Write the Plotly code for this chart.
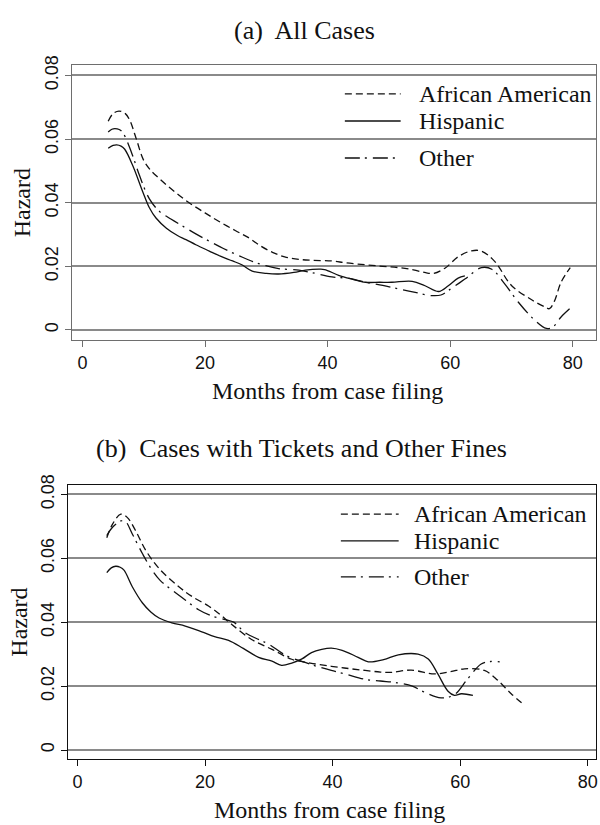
import plotly.graph_objects as go

# ---- Panel (a): All Cases ----
months_aa_a = [4.2, 5.0, 5.95, 7.0, 7.7, 8.8, 9.9, 11.0, 12.6, 15.0, 17.4, 20.0, 22.3, 25.0, 27.2,
               29.0, 31.0, 33.0, 35.3, 37.5, 40.7, 43.0, 46.2, 49.0, 51.6, 54.0, 56.0, 57.3, 59.2,
               61.3, 63.5, 65.1, 67.3, 70.0, 73.3, 75.5, 76.2, 77.0, 78.1, 79.6]
hazard_aa_a = [0.0656, 0.0680, 0.0688, 0.0680, 0.0660, 0.0600, 0.0537, 0.0505, 0.0475, 0.0435,
               0.0400, 0.0368, 0.0341, 0.0312, 0.0289, 0.0265, 0.0244, 0.0230, 0.0222, 0.0219,
               0.0217, 0.0211, 0.0205, 0.0200, 0.0196, 0.0189, 0.0180, 0.0178, 0.0195, 0.0230,
               0.0249, 0.0248, 0.0215, 0.0140, 0.0095, 0.0072, 0.0067, 0.0090, 0.0150, 0.0196]

months_hi_a = [4.2, 5.0, 5.6, 6.3, 6.9, 8.2, 9.85, 10.9, 12.0, 13.7, 15.5, 16.9, 18.5, 20.7, 22.5,
               24.5, 26.0, 27.7, 30.0, 32.0, 34.5, 36.4, 38.6, 39.5, 41.8, 44.0, 46.2, 48.5, 50.5,
               53.8, 55.9, 58.1, 59.7, 61.3, 62.4]
hazard_hi_a = [0.0571, 0.0580, 0.0582, 0.0578, 0.0568, 0.0517, 0.0434, 0.0385, 0.0352, 0.0320,
               0.0297, 0.0284, 0.0268, 0.0248, 0.0232, 0.0217, 0.0205, 0.0185, 0.0178, 0.0176,
               0.0181, 0.0188, 0.0191, 0.0190, 0.0172, 0.0160, 0.0150, 0.0150, 0.0150, 0.0153,
               0.0139, 0.0121, 0.0139, 0.0163, 0.0170]

months_ot_a = [4.2, 4.8, 5.3, 6.0, 6.6, 8.0, 9.3, 10.9, 12.6, 14.5, 16.4, 18.5, 20.7, 23.0, 25.6,
               27.8, 29.9, 32.0, 35.3, 37.5, 40.7, 43.5, 46.2, 49.0, 51.6, 54.3, 57.0, 58.5, 59.7,
               62.4, 65.1, 66.8, 68.9, 71.1, 73.8, 75.7, 76.8, 78.1, 79.5]
hazard_ot_a = [0.0622, 0.0631, 0.0633, 0.0630, 0.0620, 0.0558, 0.0486, 0.0413, 0.0372, 0.0348,
               0.0326, 0.0302, 0.0279, 0.0256, 0.0233, 0.0215, 0.0202, 0.0193, 0.0188, 0.0180,
               0.0167, 0.0162, 0.0150, 0.0140, 0.0129, 0.0118, 0.0108, 0.0110, 0.0124, 0.0160,
               0.0196, 0.0191, 0.0145, 0.0088, 0.0031, 0.0005, 0.0010, 0.0041, 0.0067]

# ---- Panel (b): Cases with Tickets and Other Fines ----
months_aa_b = [4.6, 5.5, 6.8, 7.8, 9.1, 10.7, 12.8, 15.9, 18.0, 20.6, 22.5, 24.2, 27.3, 30.5, 33.6,
               36.5, 39.8, 42.5, 45.1, 47.5, 49.2, 52.3, 56.0, 58.5, 60.7, 63.8, 65.9, 68.0, 70.1]
hazard_aa_b = [0.0664, 0.0707, 0.0738, 0.0728, 0.0687, 0.0625, 0.0568, 0.0511, 0.0480, 0.0450,
               0.0422, 0.0393, 0.0346, 0.0315, 0.0284, 0.0272, 0.0262, 0.0255, 0.0249, 0.0244,
               0.0243, 0.0250, 0.0238, 0.0245, 0.0254, 0.0249, 0.0218, 0.0176, 0.0140]

months_hi_b = [4.6, 5.3, 6.0, 6.7, 7.3, 8.6, 10.2, 11.5, 12.8, 14.8, 16.9, 19.5, 21.5, 23.7, 26.0,
               28.4, 30.5, 32.0, 33.6, 35.2, 36.7, 38.3, 39.8, 41.5, 44.0, 45.6, 48.0, 50.3, 53.4,
               55.0, 56.5, 58.1, 59.1, 60.2, 62.0]
hazard_hi_b = [0.0555, 0.0570, 0.0575, 0.0572, 0.0563, 0.0511, 0.0460, 0.0432, 0.0413, 0.0398,
               0.0388, 0.0370, 0.0355, 0.0343, 0.0318, 0.0290, 0.0278, 0.0265, 0.0272, 0.0285,
               0.0305, 0.0315, 0.0319, 0.0312, 0.0290, 0.0276, 0.0283, 0.0298, 0.0300, 0.0285,
               0.0238, 0.0184, 0.0171, 0.0176, 0.0171]

months_ot_b = [4.6, 5.5, 6.8, 7.5, 8.6, 10.2, 11.7, 13.0, 14.8, 17.0, 19.0, 21.0, 23.2, 24.5, 26.3,
               28.5, 30.0, 32.6, 35.7, 37.5, 39.8, 42.0, 45.1, 47.5, 50.3, 52.5, 54.4, 57.0, 59.1,
               61.2, 63.3, 64.8, 66.2]
hazard_ot_b = [0.0671, 0.0697, 0.0717, 0.0716, 0.0676, 0.0614, 0.0563, 0.0530, 0.0501, 0.0468,
               0.0439, 0.0420, 0.0408, 0.0400, 0.0367, 0.0345, 0.0331, 0.0297, 0.0274, 0.0262,
               0.0249, 0.0238, 0.0221, 0.0216, 0.0210, 0.0200, 0.0181, 0.0163, 0.0173, 0.0223,
               0.0269, 0.0277, 0.0276]

groups = ["African American", "Hispanic", "Other"]
x_ticks = [0, 20, 40, 60, 80]
y_ticks = [0, 0.02, 0.04, 0.06, 0.08]
y_tick_text = ["0", "0.02", "0.04", "0.06", "0.08"]

W, H = 600, 825
SERIF = "Liberation Serif, Times New Roman, serif"
SANS = "Liberation Sans, Arial, sans-serif"
INK = "#111111"
DASHES = {
    "African American": "7px,4px",
    "Hispanic": "solid",
    "Other": "15px,5px,2px,6px",
}

panels = [
    ("x", "y", [(months_aa_a, hazard_aa_a), (months_hi_a, hazard_hi_a), (months_ot_a, hazard_ot_a)]),
    ("x2", "y2", [(months_aa_b, hazard_aa_b), (months_hi_b, hazard_hi_b), (months_ot_b, hazard_ot_b)]),
]

fig = go.Figure()
for xa, ya, series in panels:
    for name, (mx, hz) in zip(groups, series):
        fig.add_trace(go.Scatter(
            x=mx, y=hz, mode="lines", name=name, xaxis=xa, yaxis=ya, showlegend=False,
            line=dict(color=INK, width=1.3, dash=DASHES[name], shape="spline", smoothing=1.0),
        ))


def px_x(p):
    return p / W


def px_y(p):
    return 1 - p / H


def axis_style(frame_color, **kw):
    return dict(
        showline=True, mirror=True, linecolor=frame_color, linewidth=1.4,
        ticks="outside", ticklen=6, tickwidth=1.3, tickcolor=frame_color,
        tickfont=dict(family=SANS, size=18, color="#111111"),
        zeroline=False, fixedrange=True, **kw,
    )


fig.update_layout(
    width=W, height=H, autosize=False,
    margin=dict(l=0, r=0, t=0, b=0),
    paper_bgcolor="white", plot_bgcolor="white",
    xaxis=axis_style("#6e6e6e", domain=[px_x(72.7), px_x(598)], range=[-1.63, 83.8],
                     tickvals=x_ticks, showgrid=False, anchor="y"),
    yaxis=axis_style("#6e6e6e", domain=[px_y(333.3), px_y(55)], range=[-0.0031, 0.0832],
                     tickvals=y_ticks, ticktext=y_tick_text, tickangle=-90,
                     showgrid=True, gridcolor="#8a8a8a", gridwidth=1.5, anchor="x"),
    xaxis2=axis_style("#111111", domain=[px_x(68.3), px_x(598)], range=[-1.47, 81.3],
                      tickvals=x_ticks, showgrid=False, anchor="y2"),
    yaxis2=axis_style("#111111", domain=[px_y(758), px_y(480.5)], range=[-0.00278, 0.0829],
                      tickvals=y_ticks, ticktext=y_tick_text, tickangle=-90,
                      showgrid=True, gridcolor="#8a8a8a", gridwidth=1.5, anchor="x2"),
)

annotations = []


def label(text, x, y, size, angle=0, xanchor="center"):
    annotations.append(dict(
        text=text, x=px_x(x), y=px_y(y), xref="paper", yref="paper",
        xanchor=xanchor, yanchor="middle", showarrow=False, textangle=angle,
        font=dict(family=SERIF, size=size, color="#111111"),
    ))


# panel titles and axis titles
label("(a)\u00a0 All Cases", 306, 20, 26)
label("Hazard", 22, 194, 24, angle=-90)
label("Months from case filing", 328.5, 385, 24)
label("(b)\u00a0 Cases with Tickets and Other Fines", 302.5, 443, 26)
label("Hazard", 19, 619, 24, angle=-90)
label("Months from case filing", 331, 810, 24)

# in-plot keys for the three groups
shapes = []
keys = [
    (346, 402, 418, [84, 111.5, 149]),
    (342, 400, 413, [510, 537, 573.5]),
]
for x0, x1, xt, ys in keys:
    for name, yk in zip(groups, ys):
        shapes.append(dict(
            type="line", xref="paper", yref="paper",
            x0=px_x(x0), x1=px_x(x1), y0=px_y(yk), y1=px_y(yk),
            line=dict(color=INK, width=1.3, dash=DASHES[name]),
        ))
        label(name, xt, yk, 24, xanchor="left")

fig.update_layout(annotations=annotations, shapes=shapes)

# page body without the browser's default margin so the figure sits at the window origin
fig.write_html("out.html", post_script="document.body.style.margin='0';")
